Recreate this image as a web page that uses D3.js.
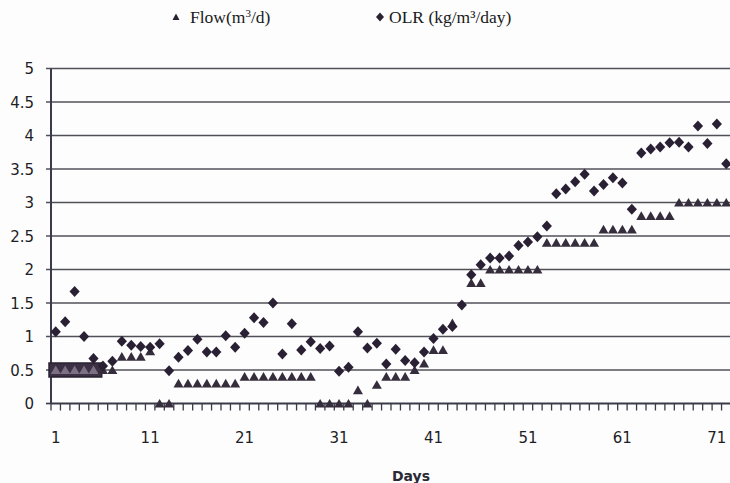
<!DOCTYPE html>
<html><head><meta charset="utf-8">
<script src="https://cdn.jsdelivr.net/npm/d3@7"></script>
<style>
body{margin:0;background:#fdfdfe;}
svg{display:block;}
.tick-lab{font-family:"DejaVu Sans",sans-serif;font-size:15px;fill:#1e1e26;}
.leg{font-family:"Liberation Serif",serif;font-size:17.5px;fill:#1a1a20;}
</style></head>
<body><div id="chart"></div>
<script>
/* Flow and OLR per day, scanned scatter chart */
var days=d3.range(1,73);
var flow=[0.5,0.5,0.5,0.5,0.5,0.5,0.5,0.7,0.7,0.7,0.78,0,0,0.3,0.3,0.3,0.3,0.3,0.3,0.3,
    0.4,0.4,0.4,0.4,0.4,0.4,0.4,0.4,0,0,0,0,0.2,0,0.28,0.4,0.4,0.4,0.5,0.6,
    0.8,0.8,1.2,null,1.8,1.8,2,2,2,2,2,2,2.4,2.4,2.4,2.4,2.4,2.4,2.6,2.6,
    2.6,2.6,2.8,2.8,2.8,2.8,3,3,3,3,3,3];
var olr=[1.07,1.22,1.67,1.0,0.67,0.56,0.63,0.93,0.87,0.85,0.84,0.89,0.49,0.69,0.79,0.96,0.77,0.77,1.01,0.84,
    1.05,1.28,1.21,1.5,0.74,1.19,0.8,0.92,0.82,0.86,0.48,0.54,1.07,0.83,0.9,0.59,0.81,0.64,0.61,0.77,
    0.97,1.11,1.15,1.47,1.92,2.07,2.17,2.17,2.2,2.36,2.41,2.49,2.65,3.13,3.2,3.31,3.42,3.17,3.27,3.37,
    3.29,2.9,3.74,3.8,3.83,3.89,3.9,3.83,4.14,3.88,4.17,3.58];
var yTicks=[0,0.5,1,1.5,2,2.5,3,3.5,4,4.5,5];
var xLabels=[1,11,21,31,41,51,61,71];

var W=730,H=483;
var svg=d3.select("#chart").append("svg").attr("width",W).attr("height",H);
var x=d3.scaleBand().domain(days).range([51,731]);
var y=d3.scaleLinear().domain([0,5]).range([403.5,68.5]);
var cx=function(d){return x(d)+x.bandwidth()/2;};

/* grid */
svg.selectAll("line.grid").data(yTicks.slice(1)).enter().append("line").attr("class","grid")
    .attr("x1",46).attr("x2",731).attr("y1",function(d){return y(d);}).attr("y2",function(d){return y(d);})
    .attr("stroke","#505058").attr("stroke-width",1.7);
svg.append("line").attr("x1",46).attr("x2",51).attr("y1",y(0)).attr("y2",y(0)).attr("stroke","#3a3a48").attr("stroke-width",1.7);
svg.selectAll("text.ylab").data(yTicks).enter().append("text").attr("class","tick-lab ylab")
    .attr("x",34).attr("y",function(d){return y(d)+5.5;}).attr("text-anchor","end").text(function(d){return d;});

/* axes */
svg.append("line").attr("x1",51).attr("x2",51).attr("y1",y(5)).attr("y2",y(0)).attr("stroke","#3a3a4e").attr("stroke-width",2);
svg.append("line").attr("x1",51).attr("x2",731).attr("y1",y(0)).attr("y2",y(0)).attr("stroke","#3a3a48").attr("stroke-width",1.8);
svg.selectAll("line.xt").data(days).enter().append("line").attr("class","xt")
    .attr("x1",function(d){return x(d);}).attr("x2",function(d){return x(d);})
    .attr("y1",y(0)).attr("y2",y(0)+7).attr("stroke","#3a3a48").attr("stroke-width",1.3);
svg.selectAll("text.xlab").data(xLabels).enter().append("text").attr("class","tick-lab xlab")
    .attr("x",cx).attr("y",443).attr("text-anchor","middle").text(function(d){return d;});
svg.append("text").attr("x",411).attr("y",481).attr("text-anchor","middle")
    .style("font-family","'DejaVu Sans',sans-serif").style("font-weight","bold").style("font-size","14px")
    .attr("fill","#2a2a34").text("Days");

/* dark box behind first flow points */
svg.append("rect").attr("x",x(1)-2).attr("y",y(0.5)-7).attr("width",x(6)-x(1)+5.5).attr("height",14)
    .attr("fill","#3b3044").attr("stroke","#2a2132").attr("stroke-width",1.5);

var tri="M0,-4.6L5,4.1L-5,4.1Z", dia="M0,-5.5L5.1,0L0,5.5L-5.1,0Z";
var fPts=days.map(function(d,i){return {day:d,v:flow[i]};}).filter(function(d){return d.v!==null;});
var oPts=days.map(function(d,i){return {day:d,v:olr[i]};});
svg.selectAll("path.flow").data(fPts).enter().append("path").attr("class","flow").attr("d",tri)
    .attr("transform",function(d){return "translate("+cx(d.day)+","+y(d.v)+")";})
    .attr("fill",function(d){return d.day<=5?"#7c7082":"#352d3b";});
svg.selectAll("path.olr").data(oPts).enter().append("path").attr("class","olr").attr("d",dia)
    .attr("transform",function(d){return "translate("+cx(d.day)+","+y(d.v)+")";})
    .attr("fill","#2a2034");

/* legend */
svg.append("path").attr("d","M0,-3.5L3.5,3L-3.5,3Z").attr("transform","translate(176,17)").attr("fill","#2a2230");
var t1=svg.append("text").attr("class","leg").attr("x",190).attr("y",23);
t1.append("tspan").text("Flow(m");
t1.append("tspan").attr("dy",-6).style("font-size","11px").text("3");
t1.append("tspan").attr("dy",6).text("/d)");
svg.append("path").attr("d","M0,-4.5L4,0L0,4.5L-4,0Z").attr("transform","translate(380,17)").attr("fill","#2a2230");
svg.append("text").attr("class","leg").attr("x",389).attr("y",23).text("OLR (kg/m\u00b3/day)");
</script></body></html>
